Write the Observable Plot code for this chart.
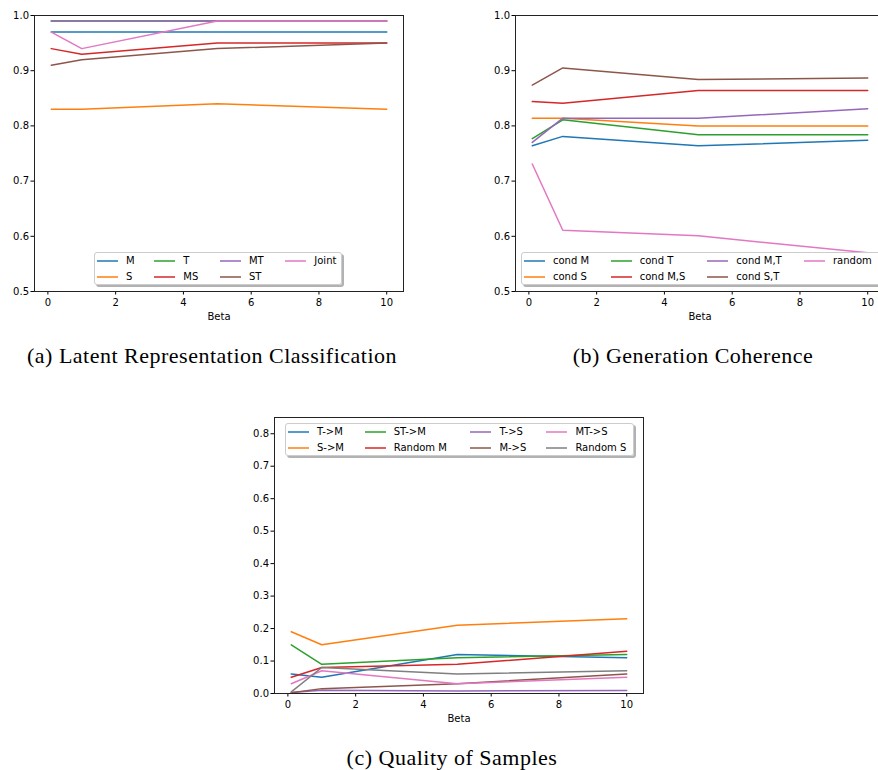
<!DOCTYPE html>
<html>
<head>
<meta charset="utf-8">
<script src="https://cdn.jsdelivr.net/npm/d3@7"></script>
<script src="https://cdn.jsdelivr.net/npm/@observablehq/plot@0.6"></script>
<style>
  html, body { margin: 0; padding: 0; background: #fff; }
  body { width: 878px; height: 770px; overflow: hidden; position: relative; }
  .panel { position: absolute; }
  .panel svg { max-width: none !important; }
  .legend {
    position: absolute; box-sizing: border-box;
    background: rgba(255,255,255,0.9); border: 1px solid #ccc; border-radius: 3px;
    box-shadow: 2px 2px 0 rgba(0,0,0,0.3);
    font-family: "DejaVu Sans", sans-serif; font-size: 10px; color: #000;
    display: grid; grid-template-rows: 15.7px 15.7px; grid-auto-flow: column;
    padding: 0 2px 0 2px; white-space: nowrap;
  }
  .item { display: flex; align-items: center; }
  .swatch { display: block; width: 21px; height: 4px; margin-right: 8px; }
  .caption { position: absolute; font-family: "Liberation Serif", "Times New Roman", serif; font-size: 22px; letter-spacing: 0.5px; color: #000; white-space: nowrap; transform: translateX(-50%); }
</style>
</head>
<body>
<div id="pa" class="panel" style="left:0px;top:0px;width:420px"></div>
<div id="pb" class="panel" style="left:470px;top:0px;width:431px"></div>
<div id="pc" class="panel" style="left:240px;top:402px;width:420px"></div>
<div id="la" class="legend" style="left:94px;top:252px;width:248px;height:33px;grid-template-columns:57.3px 65.7px 65.3px auto;"></div>
<div id="lb" class="legend" style="left:521px;top:252px;width:360px;height:33px;grid-template-columns:86.7px 96.6px 96.7px auto;"></div>
<div id="lc" class="legend" style="left:285px;top:423px;width:349px;height:33px;grid-template-columns:76.7px 105.7px 76px auto;"></div>
<div class="caption" style="left:212px;top:343px">(a) Latent Representation Classification</div>
<div class="caption" style="left:693px;top:343px">(b) Generation Coherence</div>
<div class="caption" style="left:452px;top:745px">(c) Quality of Samples</div>
<script>
// ---- shared ----
const betas = [0.1, 1, 5, 10];
const colors = ["#1f77b4", "#ff7f0e", "#2ca02c", "#d62728", "#9467bd", "#8c564b", "#e377c2", "#7f7f7f"];
const xTicks = [0, 2, 4, 6, 8, 10];

// ---- (a) Latent Representation Classification ----
const aLabels = ["M", "S", "T", "MS", "MT", "ST", "Joint"];
const aM     = [0.97, 0.97, 0.97, 0.97];
const aS     = [0.83, 0.83, 0.84, 0.83];
const aT     = [0.99, 0.99, 0.99, 0.99];
const aMS    = [0.94, 0.93, 0.95, 0.95];
const aMT    = [0.99, 0.99, 0.99, 0.99];
const aST    = [0.91, 0.92, 0.94, 0.95];
const aJoint = [0.97, 0.94, 0.99, 0.99];
const aSeries = [aM, aS, aT, aMS, aMT, aST, aJoint];
const aYTicks = [0.5, 0.6, 0.7, 0.8, 0.9, 1.0];

// ---- (b) Generation Coherence ----
const bLabels = ["cond M", "cond S", "cond T", "cond M,S", "cond M,T", "cond S,T", "random"];
const bCondM  = [0.764, 0.781, 0.764, 0.774];
const bCondS  = [0.814, 0.814, 0.800, 0.800];
const bCondT  = [0.777, 0.811, 0.784, 0.784];
const bCondMS = [0.844, 0.841, 0.864, 0.864];
const bCondMT = [0.770, 0.814, 0.814, 0.831];
const bCondST = [0.874, 0.905, 0.884, 0.887];
const bRandom = [0.731, 0.611, 0.601, 0.570];
const bSeries = [bCondM, bCondS, bCondT, bCondMS, bCondMT, bCondST, bRandom];
const bYTicks = [0.5, 0.6, 0.7, 0.8, 0.9, 1.0];

// ---- (c) Quality of Samples ----
const cLabels = ["T->M", "S->M", "ST->M", "Random M", "T->S", "M->S", "MT->S", "Random S"];
const cTM      = [0.06, 0.05, 0.12, 0.11];
const cSM      = [0.19, 0.15, 0.21, 0.23];
const cSTM     = [0.15, 0.09, 0.11, 0.12];
const cRandomM = [0.05, 0.08, 0.09, 0.13];
const cTS      = [0.003, 0.01, 0.008, 0.009];
const cMS      = [0.002, 0.015, 0.03, 0.06];
const cMTS     = [0.03, 0.07, 0.03, 0.05];
const cRandomS = [0.005, 0.08, 0.06, 0.07];
const cSeries = [cTM, cSM, cSTM, cRandomM, cTS, cMS, cMTS, cRandomS];
const cYTicks = [0.0, 0.1, 0.2, 0.3, 0.4, 0.5, 0.6, 0.7, 0.8];

function makePlot(series, labels, yDomain, yTicks, width, marginLeft) {
  const marks = [];
  series.forEach((vals, i) => {
    const rows = betas.map((b, j) => ({beta: b, value: vals[j], name: labels[i]}));
    marks.push(Plot.lineY(rows, {x: "beta", y: "value", stroke: colors[i], strokeWidth: 1.5}));
  });
  marks.push(Plot.frame({stroke: "#222", strokeWidth: 1}));
  return Plot.plot({
    width, height: 330,
    marginLeft, marginRight: 17, marginTop: 15, marginBottom: 39,
    style: {fontFamily: "DejaVu Sans, sans-serif", fontSize: "10px", color: "#000", background: "transparent", overflow: "visible", maxWidth: "none"},
    x: {domain: [-0.395, 10.495], ticks: xTicks, tickFormat: d3.format("d"), label: "Beta", labelAnchor: "center", labelArrow: "none", labelOffset: 28, tickSize: 3.5, tickPadding: 4},
    y: {domain: yDomain, ticks: yTicks, tickFormat: d3.format(".1f"), label: null, tickSize: 3.5, tickPadding: 2},
    marks
  });
}

function makeLegend(el, labels) {
  const ns = "http://www.w3.org/2000/svg";
  labels.forEach((lab, i) => {
    const it = document.createElement("div");
    it.className = "item";
    const sw = document.createElementNS(ns, "svg");
    sw.setAttribute("class", "swatch");
    sw.setAttribute("width", "21");
    sw.setAttribute("height", "4");
    const ln = document.createElementNS(ns, "line");
    ln.setAttribute("x1", "0"); ln.setAttribute("x2", "21");
    ln.setAttribute("y1", "2"); ln.setAttribute("y2", "2");
    ln.setAttribute("stroke", colors[i]); ln.setAttribute("stroke-width", "1.5");
    sw.appendChild(ln);
    const tx = document.createElement("span");
    tx.textContent = lab;
    it.appendChild(sw); it.appendChild(tx);
    el.appendChild(it);
  });
}

document.getElementById("pa").appendChild(makePlot(aSeries, aLabels, [0.5, 1.0], aYTicks, 420, 34));
document.getElementById("pb").appendChild(makePlot(bSeries, bLabels, [0.5, 1.0], bYTicks, 431, 45));
document.getElementById("pc").appendChild(makePlot(cSeries, cLabels, [0, 0.85], cYTicks, 420, 34));
makeLegend(document.getElementById("la"), aLabels);
makeLegend(document.getElementById("lb"), bLabels);
makeLegend(document.getElementById("lc"), cLabels);
</script>
</body>
</html>
